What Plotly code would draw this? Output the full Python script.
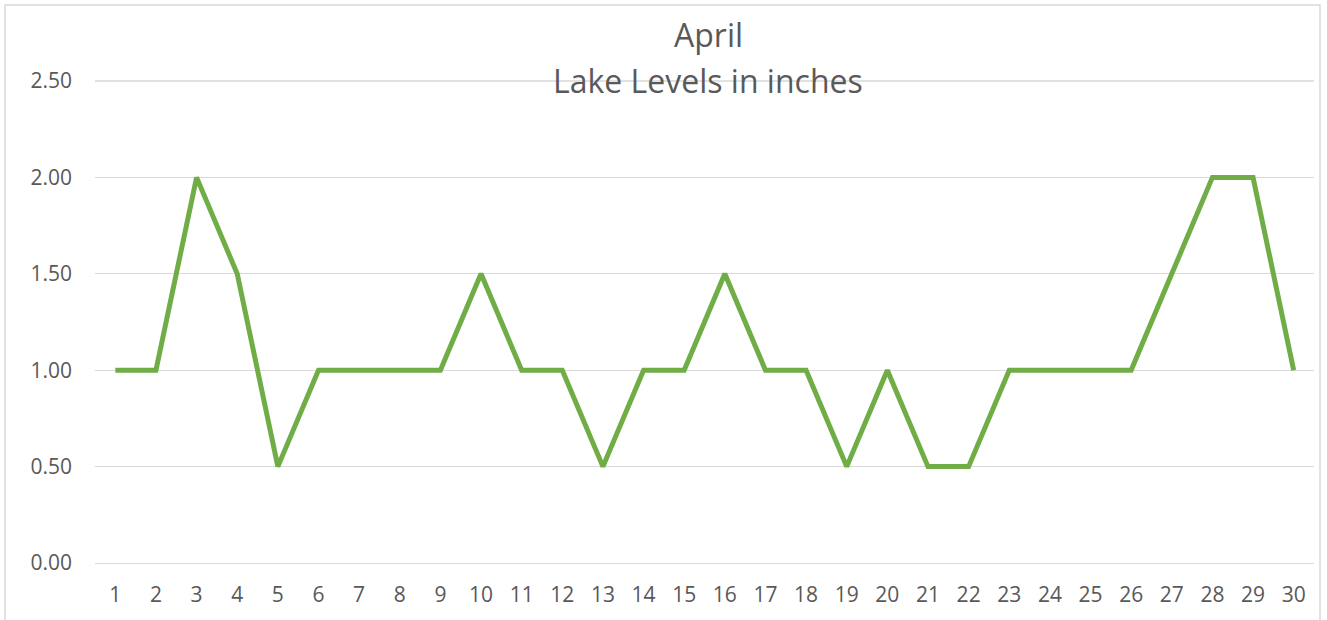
import plotly.graph_objects as go

days = [str(d) for d in range(1, 31)]
levels = [1.0, 1.0, 2.0, 1.5, 0.5, 1.0, 1.0, 1.0, 1.0, 1.5,
          1.0, 1.0, 0.5, 1.0, 1.0, 1.5, 1.0, 1.0, 0.5, 1.0,
          0.5, 0.5, 1.0, 1.0, 1.0, 1.0, 1.5, 2.0, 2.0, 1.0]
y_ticks = [0.0, 0.5, 1.0, 1.5, 2.0, 2.5]
y_tick_labels = ["0.00", "0.50", "1.00", "1.50", "2.00", "2.50"]
title_lines = ["April", "Lake Levels in inches"]

W, H = 1327, 620
L, R, T, B = 95, 13, 81, 57
pw, ph = W - L - R, H - T - B
GRID = "#D9D9D9"


def px_to_paper_x(px):
    return (px - L) / pw


def px_to_paper_y(py):
    return (H - B - py) / ph


fig = go.Figure()
fig.add_trace(go.Scatter(
    x=days, y=levels, mode="lines",
    line=dict(color="#70AD47", width=5),
    hoverinfo="x+y",
))

title_centers = [35, 80]
annotations = [
    dict(text=t, xref="paper", yref="paper",
         x=px_to_paper_x(708), y=px_to_paper_y(cy),
         xanchor="center", yanchor="middle", showarrow=False,
         font=dict(size=32, color="#595959"))
    for t, cy in zip(title_lines, title_centers)
]

fig.update_layout(
    width=W, height=H,
    margin=dict(l=L, r=R, t=T, b=B, autoexpand=False),
    paper_bgcolor="white", plot_bgcolor="white",
    showlegend=False,
    font=dict(family="Open Sans, Calibri, sans-serif", color="#595959", size=21),
    xaxis=dict(
        type="category", range=[-0.5, 29.5],
        showgrid=False, zeroline=False,
        showline=True, linecolor=GRID, linewidth=1.3,
        ticks="", tickfont=dict(size=21),
        ticklabelstandoff=13, automargin=False,
        fixedrange=True,
    ),
    yaxis=dict(
        range=[0, 2.5], tickvals=y_ticks, ticktext=y_tick_labels,
        showgrid=True, gridcolor=GRID, gridwidth=1.3,
        zeroline=False, showline=False, ticks="",
        ticklabelstandoff=22, tickfont=dict(size=21),
        automargin=False,
        fixedrange=True,
    ),
    annotations=annotations,
    shapes=[
        dict(
            type="rect", xref="paper", yref="paper",
            x0=px_to_paper_x(5), x1=px_to_paper_x(1320),
            y0=px_to_paper_y(640), y1=px_to_paper_y(5),
            line=dict(color=GRID, width=1.5), fillcolor="rgba(0,0,0,0)",
            layer="below",
        ),
        dict(
            type="line", xref="paper", yref="paper",
            x0=0, x1=1, y0=1, y1=1,
            line=dict(color=GRID, width=1.3), layer="below",
        ),
    ],
)

fig.write_html(
    "out.html",
    config={"displayModeBar": False},
    post_script="document.body.style.margin='0px';",
)
